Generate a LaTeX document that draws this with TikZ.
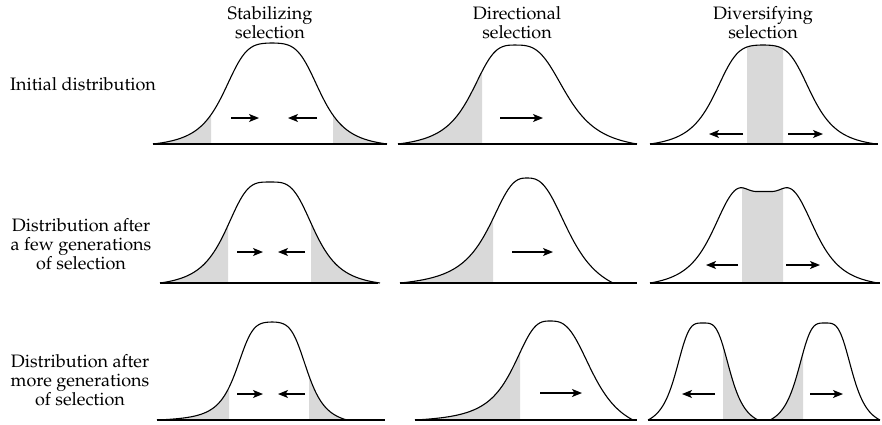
\documentclass[tikz,border=0pt]{standalone}
\usepackage[T1]{fontenc}
\usepackage{mathpazo}
\usepackage{tikz}
\usetikzlibrary{arrows.meta}
\definecolor{selgray}{RGB}{217,217,217}
% flat-topped bell with a share \a of long tail, reaches zero at distance \m from the peak
\tikzset{declare function={
  rawbell(\r,\w,\q,\a)=(1-\a)/(1+((abs(\r)+0.05)/\w)^\q)+\a/(1+((abs(\r)+0.05)/\w)^2);
  bell(\r,\w,\q,\m,\a)=(rawbell(\r,\w,\q,\a)-rawbell(\m,\w,\q,\a))/(1-rawbell(\m,\w,\q,\a));
}}
% #1 peak x, #2/#3 left/right reach, #4/#5 left/right width, #6 power, #7 height, #8 base y, #9 tail share
\newcommand{\bellpath}[9]{plot[domain={#1-#2}:{#1+#3},samples=111] (\x,{#8-#7*(\x<#1 ? bell(#1-\x,#4,#6,#2,#9) : bell(\x-#1,#5,#6,#3,#9))})}
\newcommand{\selband}[3]{\begin{scope}\clip (#1,0) rectangle (#2,500); \fill[sel] #3 -- cycle;\end{scope}}
\tikzset{
  curve/.style={line width=1.1pt,line join=round},
  axis/.style={line width=1.4pt},
  sel/.style={fill=selgray},
  push/.style={-{Stealth[length=10pt,width=8pt,inset=2.5pt]},line width=1.2pt},
  lbl/.style={align=center,font=\fontsize{18}{19}\selectfont,inner sep=0pt},
}

\begin{document}
\begin{tikzpicture}[x=1pt,y=-1pt]
  \useasboundingbox (0,0) rectangle (882,424);
  % column and row headings
  \node[lbl] (hstab) at (270,23) {Stabilizing\\selection};
  \node[lbl] (hdir) at (517,23) {Directional\\selection};
  \node[lbl] (hdiv) at (763,23) {Diversifying\\selection};
  \node[lbl] (rinit) at (83,84) {Initial distribution};
  \node[lbl] (rfew) at (81,244) {Distribution after\\a few generations\\of selection};
  \node[lbl] (rmore) at (80,380) {Distribution after\\more generations\\of selection};

  % initial distribution
  \begin{scope}
    \def\stab{\bellpath{272}{119}{115}{50}{50}{4}{101}{144}{0.1}}
    \def\dir{\bellpath{515}{117}{122}{45.9}{54}{3.34}{99}{144}{0.05}}
    \def\div{\bellpath{763}{113}{113}{50}{50}{4}{99}{144}{0.1}}
    \selband{150}{211}{\stab}
    \selband{333}{390}{\stab}
    \selband{395}{482}{\dir}
    \selband{747}{783}{\div}
    \draw[curve] \stab; \draw[curve] \dir; \draw[curve] \div;
    \draw[axis] (153,144) -- (387,144);
    \draw[axis] (398,144) -- (637,144);
    \draw[axis] (650,144) -- (878,144);
    \draw[axis,line width=2.2pt] (783,144) -- (800,144);
    \draw[push] (231,118) -- (259,118);
    \draw[push] (317,118) -- (288,118);
    \draw[push] (500,118) -- (543,118);
    \draw[push] (743,134) -- (709,134);
    \draw[push] (788,134) -- (823,134);
  \end{scope}

  % after a few generations
  \begin{scope}
    \def\stab{\bellpath{270}{110}{110}{46.5}{46.5}{3.6}{101}{283}{0}}
    \def\dir{\bellpath{527}{127}{86}{41.3}{46}{2.75}{105}{283}{0}}
    \def\div{plot[domain=650:878,samples=120] (\x,{283-109*(bell(\x-764,52,4,114,0.1)-0.16/(1+(abs(\x-764)/22)^4))})}
    \selband{157}{228}{\stab}
    \selband{311}{383}{\stab}
    \selband{397}{493}{\dir}
    \selband{742}{783}{\div}
    \draw[curve] \stab; \draw[curve] \dir; \draw[curve] \div;
    \draw[axis] (160,283) -- (378,283);
    \draw[axis] (400,283) -- (637,283);
    \draw[axis] (650,283) -- (880,283);
    \draw[axis,line width=2.2pt] (783,283) -- (795,283);
    \draw[push] (237,252) -- (263,252);
    \draw[push] (305,252) -- (278,252);
    \draw[push] (512,252) -- (553,252);
    \draw[push] (738,265) -- (706,265);
    \draw[push] (786,265) -- (820,265);
  \end{scope}

  % after more generations
  \begin{scope}
    \def\stab{\bellpath{272}{115}{75}{36.5}{36.5}{4.2}{98}{420}{0.12}}
    \def\dir{\bellpath{550}{135}{83}{39.4}{46}{2.94}{99}{420}{0}}
    \def\divl{\bellpath{703}{55}{55}{28.3}{28.3}{3.7}{97}{420}{0}}
    \def\divr{\bellpath{825}{55}{55}{28.3}{28.3}{3.7}{97}{420}{0}}
    \selband{154}{229}{\stab}
    \selband{309}{350}{\stab}
    \selband{412}{520}{\dir}
    \selband{723}{760}{\divl}
    \selband{768}{803}{\divr}
    \draw[curve] \stab; \draw[curve] \dir; \draw[curve] \divl; \draw[curve] \divr;
    \draw[axis] (157,420) -- (385,420);
    \draw[axis] (415,420) -- (637,420);
    \draw[axis] (648,420) -- (880,420);
    \draw[push] (237,394) -- (263,394);
    \draw[push] (305,394) -- (278,394);
    \draw[push] (540,393) -- (582,393);
    \draw[push] (715,394) -- (682,394);
    \draw[push] (810,394) -- (843,394);
  \end{scope}
\end{tikzpicture}
\end{document}
